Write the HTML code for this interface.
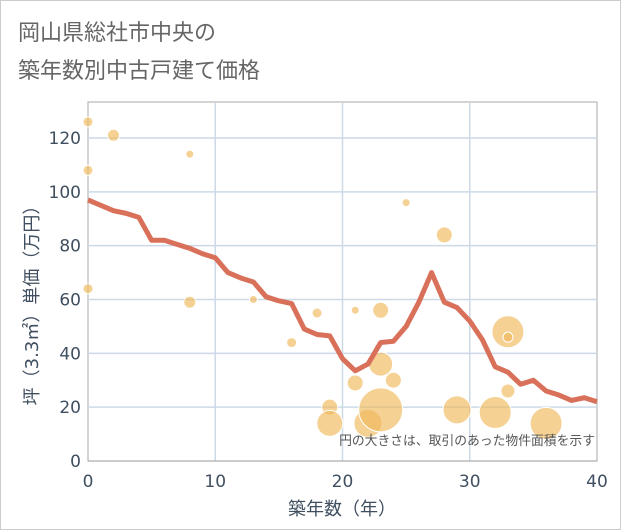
<!DOCTYPE html>
<html><head><meta charset="utf-8"><style>
body{margin:0;background:#fff;}
#w{position:relative;width:619px;height:528px;border:1px solid #ccc;font-family:"DejaVu Sans","Noto Sans CJK JP",sans-serif;}
.t{position:absolute;left:17px;font-size:22px;color:#666;}
</style></head><body>
<div id="w">
<div class="t" style="top:14px">岡山県総社市中央の</div>
<div class="t" style="top:52px">築年数別中古戸建て価格</div>
<svg id="s" width="619" height="528" style="position:absolute;left:0;top:0;font-family:'DejaVu Sans','Noto Sans CJK JP',sans-serif"></svg>
</div>
<script>
const years=[0,1,2,3,4,5,6,7,8,9,10,11,12,13,14,15,16,17,18,19,20,21,22,23,24,25,26,27,28,29,30,31,32,33,34,35,36,37,38,39,40];
const avgPrice=[97,95,93,92,90.5,82,82,80.5,79,77,75.5,70,68,66.5,61,59.5,58.5,49,47,46.5,38,33.5,36,44,44.5,50,59,70,59,57,52,45,35,33,28.5,30,26,24.5,22.5,23.5,22];
const bubX=[0,0,0,2,8,8,13,16,18,19,19,21,21,22,23,23,23,24,25,28,29,32,33,33,33,36];
const bubY=[126,108,64,121,114,59,60,44,55,20,14,56,29,14,56,36,19,30,96,84,19,18,48,26,46,14];
const bubR=[5,5,5,6,4,6,4,5,5,8,13,4,8,14,8,12,22,8,4,8,14,16,16,7,5,16];
const xTicks=[0,10,20,30,40];
const yTicks=[0,20,40,60,80,100,120];
const X0=87,X1=596,Y0=460,Y1=137;
const sx=v=>X0+(X1-X0)*v/40, sy=v=>Y0-(Y0-Y1)*v/120;
const s=document.getElementById('s');const NS='http://www.w3.org/2000/svg';
function mk(t,a,p){const e=document.createElementNS(NS,t);for(const k in a)e.setAttribute(k,a[k]);(p||s).appendChild(e);return e;}
let e;
e=mk('rect',{x:X0,y:101,width:X1-X0,height:Y0-101,fill:'none',stroke:'#aaa'});


yTicks.forEach(v=>{
 if(v>0){e=mk('line',{x1:X0,x2:X1,y1:sy(v),y2:sy(v),stroke:'#ccd9e6','stroke-width':1.5});
 
 }
 e=mk('text',{x:X0-7,y:sy(v)+6,'text-anchor':'end','font-size':17,fill:'#3f4f60'});e.textContent=v;
 
 
});
xTicks.forEach(v=>{
 if(v>0&&v<40){e=mk('line',{x1:sx(v),x2:sx(v),y1:101,y2:Y0,stroke:'#ccd9e6','stroke-width':1.5});
 
 }
 e=mk('text',{x:sx(v),y:486,'text-anchor':'middle','font-size':17,fill:'#3f4f60'});e.textContent=v;
 
 
});
mk('line',{x1:X0,x2:X1,y1:Y0,y2:Y0,stroke:'#999'});
bubX.forEach((x,i)=>{
 e=mk('circle',{cx:sx(x),cy:sy(bubY[i]),r:bubR[i],fill:'#f0b85a','fill-opacity':0.65,stroke:'#fff','stroke-width':1});
 
 
});
e=mk('polyline',{points:years.map((x,i)=>sx(x)+','+sy(avgPrice[i])).join(' '),fill:'none',stroke:'#d9705a','stroke-width':5,'stroke-linejoin':'round'});


e=mk('text',{x:594,y:444,'text-anchor':'end','font-size':12.8,fill:'#555'});e.textContent='円の大きさは、取引のあった物件面積を示す';


e=mk('text',{x:341,y:514,'text-anchor':'middle','font-size':18,fill:'#3f4f60'});e.textContent='築年数（年）';


e=mk('text',{x:0,y:0,'text-anchor':'middle','font-size':18,fill:'#3f4f60',transform:'translate(37,300) rotate(-90)'});e.textContent='坪（3.3㎡）単価（万円）';


</script>
</body></html>
